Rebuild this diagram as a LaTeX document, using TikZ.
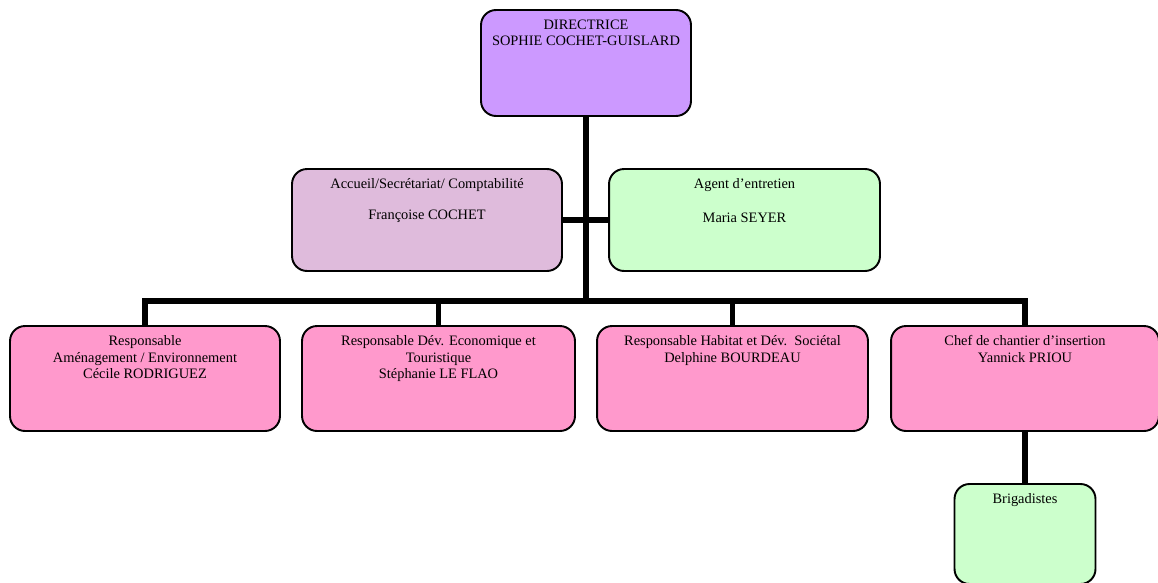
\documentclass[tikz,border=0pt]{standalone}
\usepackage{fontspec}
\setmainfont{Liberation Serif}
\definecolor{mauve}{HTML}{CC99FF}
\definecolor{lilas}{HTML}{DFBBDC}
\definecolor{vertclair}{HTML}{CCFFCC}
\definecolor{rose}{HTML}{FF99CC}
\newcommand{\texte}[3]{\parbox[t][#2][t]{#1}{\centering\vspace*{5.5pt}#3}}
\tikzset{
    cadre/.style={draw, line width=1.1pt, rounded corners=0.3cm, inner sep=0pt,
        font=\fontsize{8.2}{9.4}\selectfont},
    lien/.style={line width=3.2pt, line join=miter}
}
\begin{document}
\begin{tikzpicture}[x=0.02cm, y=-0.02cm]
        \useasboundingbox (0,0) rectangle (1158,582);
        \node[cadre, fill=mauve] (directrice) at (586,63)
            {\texte{4.2cm}{2.12cm}{DIRECTRICE\\SOPHIE COCHET-GUISLARD}};
        \node[cadre, fill=lilas] (accueil) at (427,220)
            {\texte{5.4cm}{2.04cm}{Accueil/Secrétariat/ Comptabilité\\[8pt]Françoise COCHET}};
        \node[cadre, fill=vertclair] (agent) at (744.5,220)
            {\texte{5.42cm}{2.04cm}{Agent d’entretien\\[10pt]Maria SEYER}};
        \foreach \n/\x/\w/\t in {
            amenagement/145/5.4cm/{Responsable\\Aménagement / Environnement\\Cécile RODRIGUEZ},
            economique/438.5/5.46cm/{Responsable Dév. Economique et\\Touristique\\Stéphanie LE FLAO},
            habitat/732.5/5.42cm/{Responsable Habitat et Dév.\ \ Sociétal\\Delphine BOURDEAU},
            chantier/1025/5.36cm/{Chef de chantier d’insertion\\Yannick PRIOU}} {
            \node[cadre, fill=rose] (\n) at (\x,378.5) {\texte{\w}{2.1cm}{\t}};
        }
        \node[cadre, fill=vertclair] (brigadistes) at (1025,534)
            {\texte{2.82cm}{2cm}{Brigadistes}};
        \coordinate (bus) at (586,301);
        \draw[lien] (directrice.south) -- (bus);
        \draw[lien] (accueil.east) -- (agent.west);
        \draw[lien] (amenagement.north) |- (bus) -| (chantier.north);
        \draw[lien] (economique.north) -- (economique.north |- bus);
        \draw[lien] (habitat.north) -- (habitat.north |- bus);
        \draw[lien] (chantier.south) -- (brigadistes.north);
        \end{tikzpicture}
\end{document}
